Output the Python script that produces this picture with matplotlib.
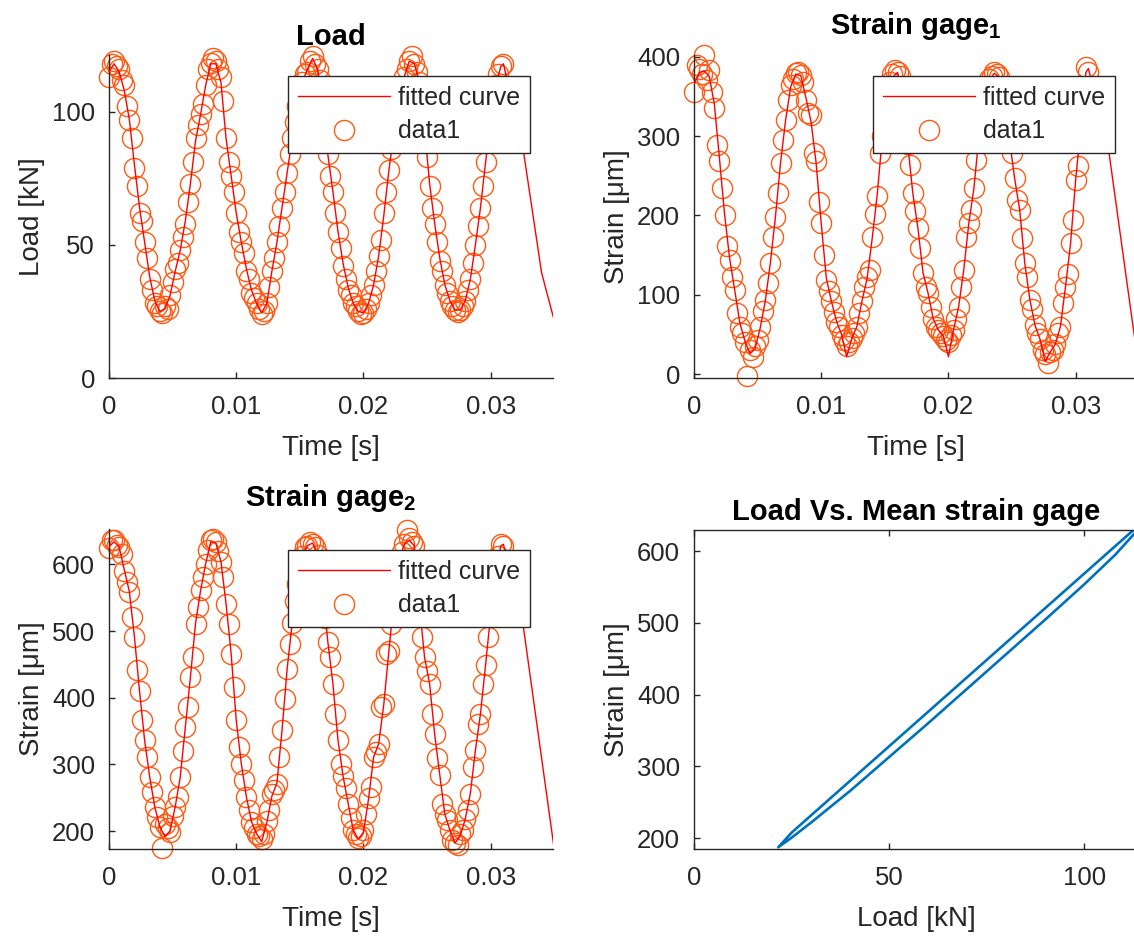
import numpy as np
import matplotlib
matplotlib.use("Agg")
import matplotlib.pyplot as plt

plt.rcParams['font.family'] = ['Liberation Sans', 'DejaVu Sans']
plt.rcParams['mathtext.fontset'] = 'custom'
plt.rcParams['mathtext.rm'] = 'Liberation Sans'
plt.rcParams['mathtext.bf'] = 'Liberation Sans:bold'

# ---------------- data ----------------
n_samples = 156
dt = 0.0002
time = np.arange(n_samples) * dt          # sampling grid [s]

load = [113, 118, 119, 117, 116, 112, 110, 102, 97, 90, 79, 72, 62, 59, 51, 45, 37, 33, 28, 27,
        25, 24.5, 27, 26, 31, 36, 41, 43, 48, 53, 58, 66, 73, 81, 90, 95, 99, 103, 110,
        116, 118.4, 120, 119, 116, 113, 104, 90, 81, 76, 70, 62, 55, 51, 47, 40, 37, 32, 30, 28,
        26, 24, 25, 28, 34, 40, 45, 51, 57, 64, 70, 77, 84, 90, 96, 102, 107, 111, 114,
        115, 119, 121, 118, 116, 112, 103, 90, 84, 76, 70, 62, 55, 49, 42, 37, 33, 31, 28, 27,
        25, 24, 24.5, 26, 28, 31, 35, 40, 46, 52, 62, 70, 78, 86, 92, 98, 104, 109, 113,
        116, 119, 121, 118, 115, 111, 103, 94, 83, 72, 64, 58, 51, 44, 40, 35, 32, 29, 27, 25.5,
        24.7, 25.5, 27, 29, 33, 37, 43, 50, 57, 64, 72, 81, 89, 97, 104, 110, 114, 117, 118]

strain1 = [356, 390, 385, 378, 402, 371, 383, 356, 335, 289, 268, 234, 200, 161, 144, 123, 106, 77, 60, 52,
           41, -2, 31, 22, 35, 43, 60, 80, 94, 115, 140, 173, 198, 228, 266, 295, 320, 345, 364,
           372, 379, 381, 377, 368, 345, 329, 326, 278, 268, 217, 190, 150, 119, 105, 92, 78, 66, 60, 50,
           43, 35, 40, 46, 52, 60, 77, 92, 110, 122, 131, 173, 202, 225, 279, 300, 330, 352, 368,
           378, 383, 380, 376, 350, 310, 290, 264, 228, 205, 184, 159, 127, 110, 102, 85, 70, 60, 56, 52,
           48, 43, 40, 50, 56, 70, 85, 110, 131, 173, 190, 207, 234, 270, 300, 328, 348, 362, 372,
           376, 380, 378, 374, 360, 335, 310, 295, 278, 247, 220, 207, 171, 140, 122, 94, 82, 62, 52, 44,
           30, 25, 14, 28, 30, 38, 52, 60, 90, 110, 126, 165, 194, 245, 262, 310, 350, 387, 380]

strain2 = [624, 636, 636, 629, 626, 616, 590, 574, 559, 521, 491, 441, 410, 366, 336, 311, 281, 258, 236, 221,
           206, 174, 211, 205, 199, 222, 236, 251, 281, 320, 356, 386, 431, 461, 511, 536, 561, 581, 601,
           621, 636, 638, 634, 620, 604, 581, 541, 511, 466, 416, 366, 326, 301, 276, 251, 231, 214, 205, 196,
           192, 188, 196, 215, 231, 256, 262, 271, 311, 351, 398, 443, 481, 512, 545, 570, 593, 612, 626,
           628, 633, 631, 626, 614, 592, 560, 520, 484, 461, 421, 376, 336, 301, 282, 265, 241, 219, 201, 196,
           189, 192, 201, 226, 250, 266, 311, 318, 331, 386, 390, 466, 470, 510, 548, 580, 604, 618, 630,
           651, 639, 634, 628, 600, 540, 491, 461, 440, 421, 376, 345, 309, 284, 241, 225, 216, 201, 186, 182,
           179, 195, 201, 218, 231, 256, 296, 321, 361, 376, 420, 449, 491, 525, 560, 590, 612, 631, 628]

# fitted curves, evaluated at every second sample, plus the extrapolated tail
fit_load = [115, 118, 115, 108, 97, 80, 64, 51, 38, 29,
            25, 26, 31, 40, 48, 59, 73, 89, 99, 110,
            118, 118, 111, 90, 76, 62, 51, 41, 33, 28,
            24.5, 28, 40, 51, 64, 77, 90, 102, 111, 116,
            120, 116, 104, 84, 70, 55, 43, 34, 28, 25,
            24.5, 28, 35, 46, 61, 78, 92, 104, 113, 119,
            118, 111, 94, 73, 58, 45, 35, 29, 25.5, 25.5,
            29, 37, 50, 64, 81, 97, 110, 117]
fit_strain1 = [365, 380, 382, 375, 340, 272, 202, 146, 106, 65,
               42, 26, 32, 58, 92, 140, 198, 266, 320, 362,
               378, 376, 348, 318, 266, 190, 121, 92, 67, 50,
               22, 45, 60, 92, 120, 170, 226, 298, 350, 374,
               380, 352, 290, 228, 184, 128, 102, 70, 56, 48,
               22, 56, 85, 131, 190, 234, 300, 348, 370, 379,
               374, 335, 295, 247, 207, 140, 94, 62, 44, 16,
               28, 38, 60, 110, 165, 245, 310, 380]
fit_strain2 = [626, 634, 626, 592, 559, 491, 410, 336, 281, 236,
               206, 192, 200, 236, 281, 356, 431, 511, 561, 601,
               634, 632, 604, 541, 466, 366, 301, 251, 214, 196,
               184, 212, 252, 272, 351, 443, 512, 570, 612, 628,
               632, 614, 560, 484, 421, 336, 282, 241, 201, 188,
               198, 248, 311, 331, 390, 470, 548, 604, 630, 636,
               628, 540, 461, 421, 345, 284, 225, 201, 182, 192,
               218, 256, 321, 376, 449, 525, 590, 628]

tail_time_load = [0.0310, 0.03255, 0.0340, 0.0350]
tail_load = [118, 86, 39.6, 21.5]
tail_time_s1 = [0.0310, 0.03263, 0.03451, 0.0350]
tail_s1 = [385, 278, 60, 5]
tail_time_s2 = [0.0310, 0.03255, 0.0349, 0.0350]
tail_s2 = [630, 509, 186, 172]

# load vs mean strain gage (hysteresis loop)
loop_load = [115, 113, 108, 100, 90, 80, 70, 60, 50, 40, 30, 25, 21.6,
             25, 30, 40, 50, 60, 70, 80, 90, 100, 108, 113, 115]
loop_strain = [640.6, 625.0, 595.0, 553.5, 504.4, 456.3, 408.2, 360.1, 313.0, 265.9, 221.8, 200.7, 187.4,
               207.7, 231.8, 279.9, 328.0, 376.1, 424.2, 472.3, 520.4, 568.5, 607.0, 631.0, 640.6]

# ---------------- style ----------------
W, H = 1134, 938
fig = plt.figure(figsize=(W / 100, H / 100), dpi=100)

AX_COL = '#262626'
DATA_COL = '#FF5A14'
FIT_COL = '#FF0000'
TICK_FS = 18.5
LABEL_FS = 20
TITLE_FS = 21


def px_axes(l, t, r, b):
    return fig.add_axes([l / W, 1 - b / H, (r - l) / W, (b - t) / H])


def style(ax, box=False):
    for s in ax.spines.values():
        s.set_color(AX_COL)
        s.set_linewidth(1.0)
    if not box:
        ax.spines['top'].set_visible(False)
        ax.spines['right'].set_visible(False)
        ax.tick_params(top=False, right=False)
    else:
        ax.tick_params(top=True, right=False)
    ax.tick_params(direction='in', length=4, width=1.0, colors=AX_COL,
                   labelsize=TICK_FS, labelcolor=AX_COL)
    ax.tick_params(axis='x', pad=12)
    ax.tick_params(axis='y', pad=10)
    ax.set_facecolor('white')


def time_panel(ax, tt, data, fit, tail_t, tail_v, ylim, yticks, ylabel, title, tpad):
    ax.plot(tt, data, linestyle='none', marker='o', markersize=14.5,
            markerfacecolor='none', markeredgecolor=DATA_COL, markeredgewidth=1.0,
            clip_on=False, label='data1', zorder=2)
    ft = np.concatenate([tt[::2], tail_t])
    fv = np.concatenate([fit, tail_v])
    ax.plot(ft, fv, color=FIT_COL, linewidth=1.0, label='fitted curve', zorder=3)
    ax.set_xlim(0, 0.0349)
    ax.set_ylim(*ylim)
    ax.set_xticks([0, 0.01, 0.02, 0.03])
    ax.set_xticklabels(['0', '0.01', '0.02', '0.03'])
    ax.set_yticks(yticks)
    ax.set_yticklabels([str(v) for v in yticks])
    ax.set_xlabel('Time [s]', fontsize=LABEL_FS, color=AX_COL, labelpad=12)
    ax.set_ylabel(ylabel, fontsize=LABEL_FS, color=AX_COL, labelpad=5)
    ax.set_title(title, fontsize=TITLE_FS, fontweight='bold', pad=tpad, va='bottom')
    style(ax)
    h, l = ax.get_legend_handles_labels()
    leg = ax.legend([h[1], h[0]], [l[1], l[0]], loc='upper right',
                    bbox_to_anchor=(0.948, 0.935), borderaxespad=0,
                    fontsize=18, frameon=True, fancybox=False, framealpha=1,
                    edgecolor=AX_COL, handlelength=3.7, handletextpad=0.3,
                    labelspacing=0.38, borderpad=0.4, numpoints=1)
    leg.get_frame().set_linewidth(1.0)
    for txt in leg.get_texts():
        txt.set_color(AX_COL)


ax1 = px_axes(109, 55, 553, 378)
time_panel(ax1, time, load, fit_load, tail_time_load, tail_load,
           (0, 121.3), [0, 50, 100], 'Load [kN]', 'Load', 3)

ax2 = px_axes(694, 55, 1138, 378)
time_panel(ax2, time, strain1, fit_strain1, tail_time_s1, tail_s1,
           (-4.7, 402), [0, 100, 200, 300, 400], 'Strain [\u03bcm]', r'Strain gage$_\mathbf{1}$', 9.5)

ax3 = px_axes(109, 529, 553, 849)
time_panel(ax3, time, strain2, fit_strain2, tail_time_s2, tail_s2,
           (173, 653), [200, 300, 400, 500, 600], 'Strain [\u03bcm]', r'Strain gage$_\mathbf{2}$', 10.5)

ax4 = px_axes(694, 530, 1138, 849)
ax4.plot(loop_load, loop_strain, color='#0072BD', linewidth=1.9)
ax4.set_xlim(0, 113.8)
ax4.set_ylim(185, 629.3)
ax4.set_xticks([0, 50, 100])
ax4.set_xticklabels(['0', '50', '100'])
ax4.set_yticks([200, 300, 400, 500, 600])
ax4.set_yticklabels(['200', '300', '400', '500', '600'])
ax4.set_xlabel('Load [kN]', fontsize=LABEL_FS, color=AX_COL, labelpad=12)
ax4.set_ylabel('Strain [\u03bcm]', fontsize=LABEL_FS, color=AX_COL, labelpad=5)
ax4.set_title('Load Vs. Mean strain gage', fontsize=TITLE_FS, fontweight='bold', pad=3, va='bottom')
style(ax4, box=True)

fig.savefig('out.png', dpi=100, facecolor='white')
